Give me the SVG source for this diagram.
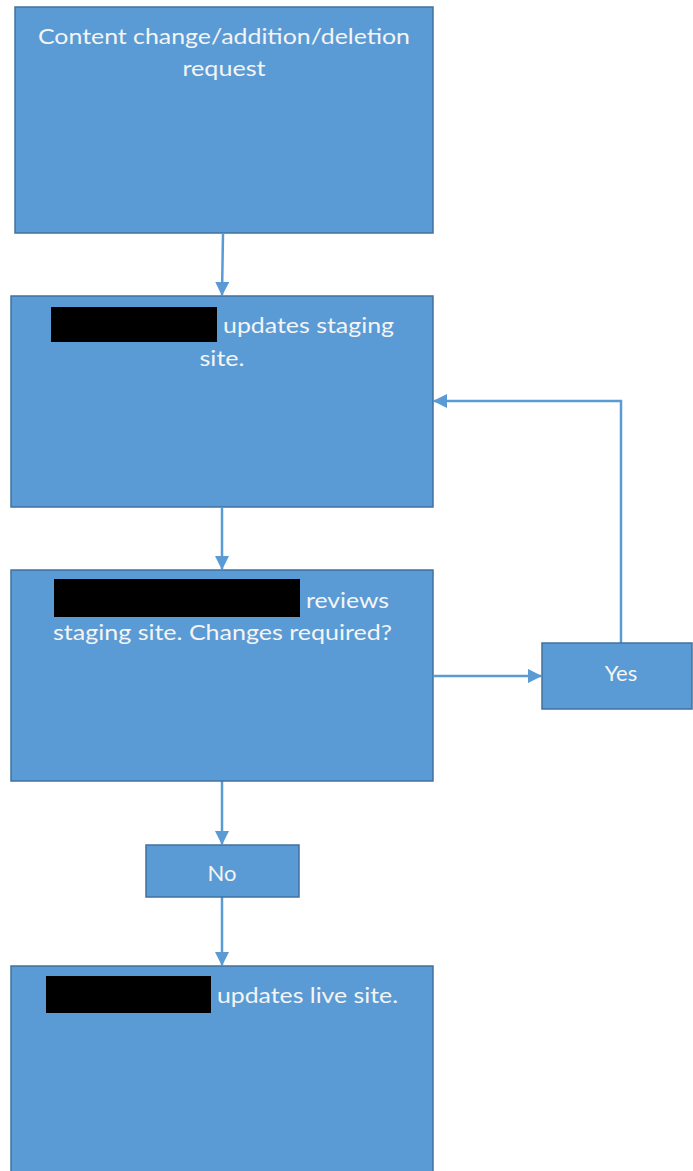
<svg xmlns="http://www.w3.org/2000/svg" width="693" height="1171" viewBox="0 0 693 1171">
<style>
.box{fill:#5B9BD5;stroke:#41719C;stroke-width:1.5}
.t{font-family:Lato,"Liberation Sans",sans-serif;font-size:22px;fill:#F4F4F4}
.red{fill:#000}
.c{fill:none;stroke:#5B9BD5;stroke-width:2.5}
</style>
<defs>
<marker id="ah" markerWidth="14" markerHeight="14" refX="13" refY="7" orient="auto" markerUnits="userSpaceOnUse">
<path d="M0,0 L14,7 L0,14 Z" fill="#5B9BD5"/>
</marker>
</defs>
<rect width="693" height="1171" fill="#fff"/>
<g id="connectors">
<path class="c" d="M223,234 L222,295" marker-end="url(#ah)"/>
<path class="c" d="M222,508 L222,569" marker-end="url(#ah)"/>
<path class="c" d="M434,676 L541,676" marker-end="url(#ah)"/>
<path class="c" d="M621,643 L621,401 L434,401" marker-end="url(#ah)"/>
<path class="c" d="M222,781 L222,844" marker-end="url(#ah)"/>
<path class="c" d="M222,897 L222,965" marker-end="url(#ah)"/>
</g>
<g id="n1">
<rect class="box" x="15" y="7" width="418" height="226"/>
<text class="t" x="224" y="44" text-anchor="middle" textLength="372" lengthAdjust="spacingAndGlyphs">Content change/addition/deletion</text>
<text class="t" x="224" y="76" text-anchor="middle" textLength="83" lengthAdjust="spacingAndGlyphs">request</text>
</g>
<g id="n2">
<rect class="box" x="11" y="296" width="422" height="211"/>
<rect class="red" x="51" y="307" width="166" height="35"/>
<text class="t" x="223" y="333" textLength="171" lengthAdjust="spacingAndGlyphs">updates staging</text>
<text class="t" x="222" y="366" text-anchor="middle" textLength="45" lengthAdjust="spacingAndGlyphs">site.</text>
</g>
<g id="n3">
<rect class="box" x="11" y="570" width="422" height="211"/>
<rect class="red" x="54" y="579" width="246" height="38"/>
<text class="t" x="306" y="608" textLength="83" lengthAdjust="spacingAndGlyphs">reviews</text>
<text class="t" x="53" y="640" textLength="339" lengthAdjust="spacingAndGlyphs">staging site. Changes required?</text>
</g>
<g id="n4">
<rect class="box" x="542" y="643" width="150" height="66"/>
<text class="t" x="621" y="681" text-anchor="middle">Yes</text>
</g>
<g id="n5">
<rect class="box" x="146" y="845" width="153" height="52"/>
<text class="t" x="222" y="881" text-anchor="middle">No</text>
</g>
<g id="n6">
<rect class="box" x="11" y="966" width="422" height="212"/>
<rect class="red" x="46" y="976" width="165" height="37"/>
<text class="t" x="217" y="1003" textLength="181" lengthAdjust="spacingAndGlyphs">updates live site.</text>
</g>
</svg>
